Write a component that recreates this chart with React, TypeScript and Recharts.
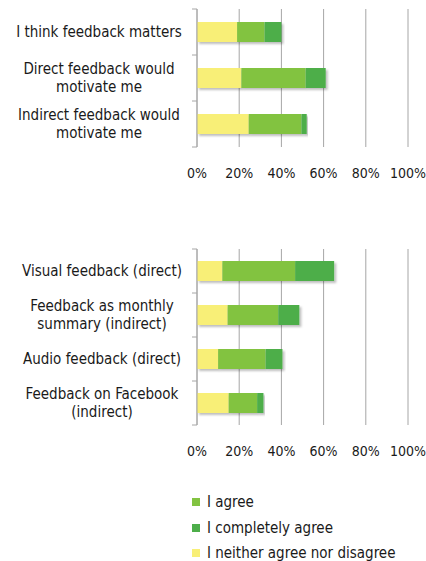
import React from "react";
import { BarChart, Bar, XAxis, YAxis, CartesianGrid } from "recharts";

const topCategories = [
  "I think feedback matters",
  "Direct feedback would\nmotivate me",
  "Indirect feedback would\nmotivate me",
];
const topNeither = [19, 21, 24.5];
const topAgree = [13, 30.5, 25];
const topCompletely = [8, 9.5, 2.5];

const bottomCategories = [
  "Visual feedback (direct)",
  "Feedback as monthly\nsummary (indirect)",
  "Audio feedback (direct)",
  "Feedback on Facebook\n(indirect)",
];
const bottomNeither = [12, 14.5, 10, 15];
const bottomAgree = [34.5, 24, 22.5, 13.5];
const bottomCompletely = [18.5, 10, 8, 3];

const xTicks = [0, 20, 40, 60, 80, 100];
const legendLabels = ["I agree", "I completely agree", "I neither agree nor disagree"];

const YELLOW = "#F8EF77";
const LIGHT = "#82C341";
const DARK = "#4DAE4A";
const GRID = "#A6A6A6";
const FONT = "'DejaVu Sans Condensed', 'DejaVu Sans', sans-serif";
const FS = 15;
const FS_X = 14;

function build(cats: string[], n: number[], a: number[], c: number[]) {
  return cats.map((name, i) => ({ name, neither: n[i], agree: a[i], completely: c[i] }));
}

const topData = build(topCategories, topNeither, topAgree, topCompletely);
const bottomData = build(bottomCategories, bottomNeither, bottomAgree, bottomCompletely);

function makeTick(plotH: number, count: number, centerOffset: number) {
  const half = plotH / count / 2;
  return (props: any) => {
    const { x, y, payload, index } = props;
    const lines = String(payload.value).split("\n");
    const lh = 18;
    const start = y - ((lines.length - 1) * lh) / 2;
    return (
      <g>
        <line x1={x - 5} x2={x} y1={y - half} y2={y - half} stroke={GRID} />
        {index === count - 1 && <line x1={x - 5} x2={x} y1={y + half} y2={y + half} stroke={GRID} />}
        {lines.map((l, i) => (
          <text
            key={i}
            x={x - centerOffset}
            y={start + i * lh}
            dy="0.35em"
            textAnchor="middle"
            fill="#1a1a1a"
            fontSize={FS}
            fontFamily={FONT}
          >
            {l}
          </text>
        ))}
      </g>
    );
  };
}

function Chart({ data, plotH, centerOffset }: { data: any[]; plotH: number; centerOffset: number }) {
  const TickC = makeTick(plotH, data.length, centerOffset);
  return (
    <BarChart
      width={426}
      height={9 + plotH + 40}
      data={data}
      layout="vertical"
      margin={{ top: 9, right: 18, bottom: 0, left: 0 }}
      barSize={20}
    >
      <defs>
        <filter id="shadow" x="-10%" y="-20%" width="130%" height="160%">
          <feDropShadow dx="2" dy="2" stdDeviation="1.2" floodColor="#000" floodOpacity="0.25" />
        </filter>
      </defs>
      <CartesianGrid horizontal={false} vertical={true} stroke={GRID} />
      <XAxis
        type="number"
        domain={[0, 100]}
        ticks={xTicks}
        tickFormatter={(v: number) => `${v}%`}
        axisLine={false}
        tickLine={false}
        tickSize={0}
        tickMargin={21}
        height={40}
        tick={{ fontSize: FS_X, fontFamily: FONT, fill: "#1a1a1a" }}
        interval={0}
      />
      <YAxis
        type="category"
        dataKey="name"
        width={197}
        axisLine={{ stroke: GRID }}
        tickLine={false}
        tickSize={0}
        tickMargin={0}
        tick={TickC}
        interval={0}
      />
      <Bar dataKey="neither" stackId="s" fill={YELLOW} isAnimationActive={false} filter="url(#shadow)" />
      <Bar dataKey="agree" stackId="s" fill={LIGHT} isAnimationActive={false} filter="url(#shadow)" />
      <Bar dataKey="completely" stackId="s" fill={DARK} isAnimationActive={false} filter="url(#shadow)" />
    </BarChart>
  );
}

export default function App() {
  const colors = [LIGHT, DARK, YELLOW];
  const legendY = [502, 528, 553];
  return (
    <div style={{ position: "absolute", left: 0, top: 0, width: 426, height: 561, background: "#fff" }}>
      <div style={{ position: "absolute", left: 0, top: 0 }}>
        <Chart data={topData} plotH={138} centerOffset={98} />
      </div>
      <div style={{ position: "absolute", left: 0, top: 240 }}>
        <Chart data={bottomData} plotH={176} centerOffset={95} />
      </div>
      {legendLabels.map((l, i) => (
        <div
          key={l}
          style={{
            position: "absolute",
            left: 192,
            top: legendY[i] - 10,
            height: 20,
            display: "flex",
            alignItems: "center",
            fontFamily: FONT,
            fontSize: FS,
            color: "#1a1a1a",
            whiteSpace: "nowrap",
          }}
        >
          <span style={{ display: "inline-block", width: 8, height: 8, background: colors[i], marginRight: 7 }} />
          {l}
        </div>
      ))}
    </div>
  );
}
